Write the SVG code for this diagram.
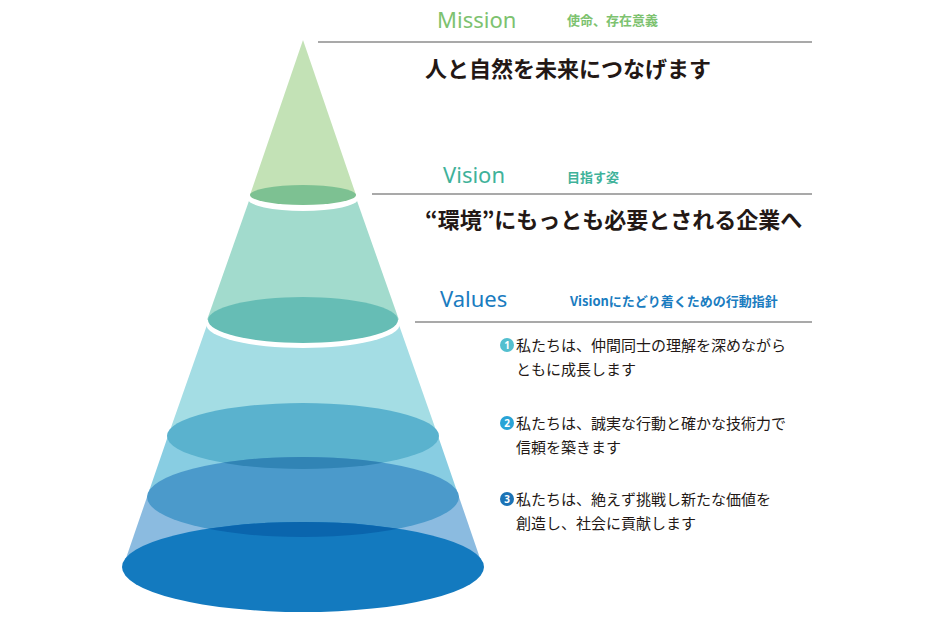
<svg xmlns="http://www.w3.org/2000/svg" width="950" height="621" viewBox="0 0 950 621">
<style>
.en{font-family:"Noto Sans","Open Sans",sans-serif;font-size:22px}
.sub{font-family:"Noto Sans CJK JP",sans-serif;font-size:13px;font-weight:bold}
.h{font-family:"Noto Sans CJK JP",sans-serif;font-size:22px;font-weight:bold;fill:#231815}
.t{font-family:"Noto Sans CJK JP",sans-serif;font-size:15px;fill:#231815}
.n{font-family:"Noto Sans",sans-serif;font-size:10px;font-weight:bold;fill:#fff;text-anchor:middle}
.ln{stroke:#555;stroke-width:1.2}
</style>
<defs>
<clipPath id="c497"><ellipse cx="303" cy="497" rx="156" ry="40"/></clipPath>
<clipPath id="c567"><ellipse cx="303" cy="567" rx="181" ry="45"/></clipPath>
</defs>
<g id="pyramid">
<polygon points="303,40 356,195 250,195" fill="#c3e2b6"/>
<polygon points="250,198 356,198 399,320 207,320" fill="#a2dbcd"/>
<ellipse cx="303" cy="199" rx="55" ry="12" fill="#fff"/>
<ellipse cx="303" cy="195" rx="53" ry="10" fill="#7dc192"/>
<polygon points="207,325 399,325 438,436 168,436" fill="#a4dde4"/>
<polygon points="168,436 438,436 459,497 147,497" fill="#88cde2"/>
<polygon points="147,497 459,497 483,567 123,567" fill="#8bbbe0"/>
<ellipse cx="303" cy="324" rx="97" ry="24" fill="#fff"/>
<ellipse cx="303" cy="320" rx="95" ry="23" fill="#66bdb5"/>
<ellipse cx="303" cy="436" rx="136" ry="33" fill="#5ab2ce"/>
<ellipse cx="303" cy="497" rx="156" ry="40" fill="#4b9acb"/>
<ellipse cx="303" cy="436" rx="136" ry="33" fill="#3184b5" clip-path="url(#c497)"/>
<ellipse cx="303" cy="567" rx="181" ry="45" fill="#137abf"/>
<ellipse cx="303" cy="497" rx="156" ry="40" fill="#0a65ad" clip-path="url(#c567)"/>
</g>
<g id="connectors">
<line class="ln" x1="318" y1="42" x2="812" y2="42"/>
<line class="ln" x1="372" y1="194" x2="812" y2="194"/>
<line class="ln" x1="415" y1="322" x2="812" y2="322"/>
</g>
<g id="mission">
<text class="en" x="437" y="28" fill="#7dc26f">Mission</text>
<text class="sub" x="567" y="25" fill="#7dc26f">使命、存在意義</text>
<text class="h" x="425" y="77">人と自然を未来につなげます</text>
</g>
<g id="vision">
<text class="en" x="443" y="183" fill="#3fb29a">Vision</text>
<text class="sub" x="567" y="182" fill="#3fb29a">目指す姿</text>
<text class="h" x="425" y="228">“環境”にもっとも必要とされる企業へ</text>
</g>
<g id="values">
<text class="en" x="440" y="307" fill="#1a7cc0">Values</text>
<text class="sub" x="570" y="306" fill="#1a7cc0">Visionにたどり着くための行動指針</text>
<circle cx="507" cy="345" r="7" fill="#53bfcf"/><text class="n" x="507" y="349">1</text>
<text class="t" x="516" y="351">私たちは、仲間同士の理解を深めながら</text>
<text class="t" x="516" y="375">ともに成長します</text>
<circle cx="507" cy="423" r="7" fill="#29a3d6"/><text class="n" x="507" y="427">2</text>
<text class="t" x="516" y="429">私たちは、誠実な行動と確かな技術力で</text>
<text class="t" x="516" y="453">信頼を築きます</text>
<circle cx="507" cy="499" r="7" fill="#1b73b6"/><text class="n" x="507" y="503">3</text>
<text class="t" x="516" y="505">私たちは、絶えず挑戦し新たな価値を</text>
<text class="t" x="516" y="529">創造し、社会に貢献します</text>
</g>
</svg>
